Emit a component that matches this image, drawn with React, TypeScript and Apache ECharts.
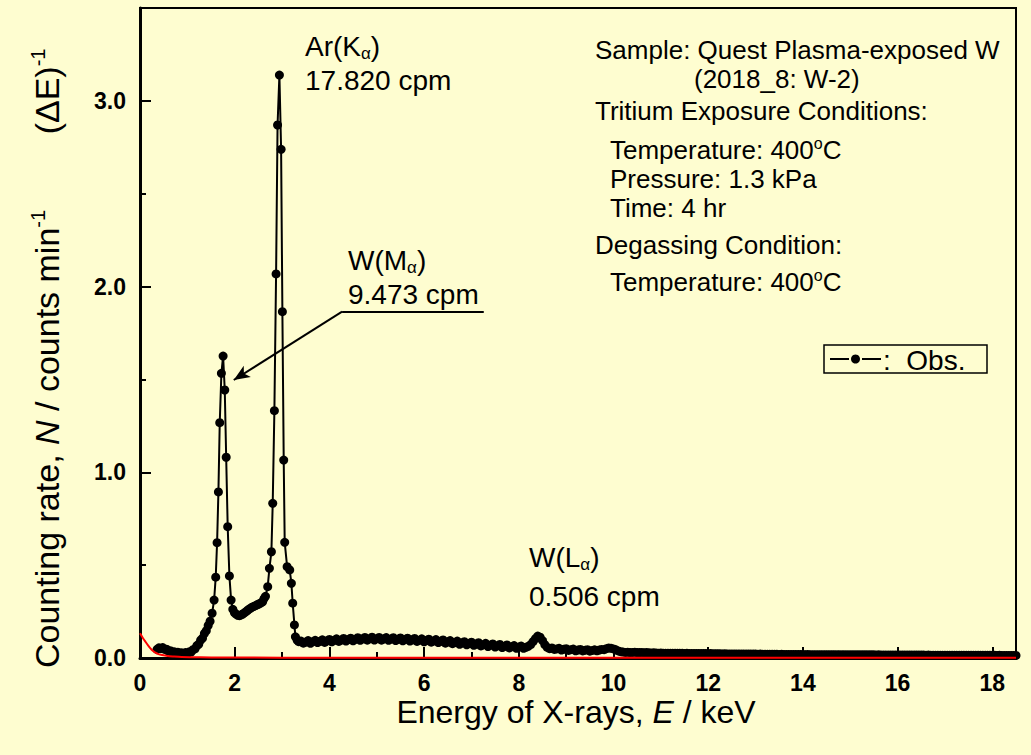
import React, { useEffect, useRef } from "react";
import * as echarts from "echarts";

const FONT = '"Liberation Sans", Arial, Helvetica, sans-serif';
const BG = "#FEFDD0";

// Continuum below the W(Mα) line: energy (keV) and counting rate
const lowEnergy = [
  0.36, 0.4, 0.44, 0.48, 0.52, 0.56, 0.6, 0.64, 0.68, 0.72,
  0.76, 0.8, 0.84, 0.88, 0.92, 0.96, 1.0, 1.04, 1.08, 1.12,
  1.16, 1.2, 1.24, 1.28, 1.32, 1.36, 1.4, 1.44, 1.48,
];
const lowRate = [
  0.046, 0.055, 0.05, 0.056, 0.046, 0.047, 0.036, 0.039, 0.029, 0.034,
  0.025, 0.031, 0.023, 0.028, 0.022, 0.029, 0.024, 0.033, 0.032, 0.045,
  0.049, 0.066, 0.074, 0.096, 0.107, 0.132, 0.147, 0.175, 0.198,
];

// W(Mα) and Ar(Kα) peak region
const peakEnergy = [
  1.523, 1.565, 1.599, 1.628, 1.656, 1.684, 1.719, 1.755, 1.79, 1.82,
  1.852, 1.888, 1.924, 1.96, 1.995, 2.03, 2.065, 2.1, 2.135, 2.17,
  2.205, 2.24, 2.275, 2.31, 2.345, 2.38, 2.415, 2.45, 2.485, 2.52,
  2.555, 2.59, 2.62, 2.65, 2.697, 2.733, 2.775, 2.803, 2.838, 2.874,
  2.905, 2.944, 2.98, 3.007, 3.035, 3.056, 3.107, 3.162, 3.197, 3.225,
  3.261, 3.282, 3.32, 3.352,
];
const peakRate = [
  0.241, 0.312, 0.435, 0.621, 0.894, 1.267, 1.533, 1.626, 1.443, 1.081,
  0.707, 0.442, 0.312, 0.262, 0.244, 0.236, 0.23, 0.228, 0.232, 0.237,
  0.243, 0.25, 0.257, 0.264, 0.27, 0.275, 0.279, 0.283, 0.288, 0.292,
  0.297, 0.303, 0.32, 0.332, 0.384, 0.483, 0.572, 0.833, 1.332, 2.068,
  2.87, 3.139, 2.739, 1.865, 1.066, 0.623, 0.492, 0.474, 0.402, 0.295,
  0.178, 0.114, 0.096, 0.088,
];

// Continuum above 3.4 keV, one channel every 0.05 keV
const tailStart = 3.4;
const tailStep = 0.05;
const tailRate = [
  0.091, 0.08, 0.086, 0.094, 0.079, 0.088, 0.095, 0.083, 0.09, 0.098,
  0.084, 0.093, 0.1, 0.087, 0.095, 0.103, 0.089, 0.097, 0.105, 0.091,
  0.099, 0.107, 0.093, 0.101, 0.109, 0.095, 0.103, 0.111, 0.096, 0.104,
  0.112, 0.097, 0.104, 0.111, 0.096, 0.103, 0.11, 0.095, 0.102, 0.109,
  0.094, 0.101, 0.108, 0.093, 0.1, 0.107, 0.091, 0.098, 0.105, 0.089,
  0.096, 0.103, 0.087, 0.094, 0.101, 0.085, 0.092, 0.099, 0.083, 0.09,
  0.097, 0.08, 0.087, 0.094, 0.077, 0.084, 0.091, 0.074, 0.081, 0.088,
  0.071, 0.078, 0.085, 0.068, 0.075, 0.082, 0.065, 0.072, 0.079, 0.062,
  0.069, 0.076, 0.059, 0.066, 0.073, 0.056, 0.063, 0.07, 0.054, 0.061,
  0.067, 0.052, 0.059, 0.064, 0.052, 0.058, 0.063, 0.072, 0.088, 0.104,
  0.118, 0.112, 0.094, 0.072, 0.057, 0.05, 0.054, 0.046, 0.049, 0.052,
  0.043, 0.047, 0.05, 0.041, 0.045, 0.048, 0.039, 0.043, 0.046, 0.038,
  0.042, 0.045, 0.037, 0.041, 0.044, 0.039, 0.043, 0.046, 0.045, 0.05,
  0.054, 0.052, 0.049, 0.044, 0.038, 0.034, 0.032, 0.03, 0.031, 0.029,
  0.03, 0.031, 0.029, 0.029, 0.03, 0.028, 0.029, 0.028, 0.027, 0.028,
  0.027, 0.026, 0.027, 0.026, 0.026, 0.026, 0.025, 0.026, 0.025, 0.025,
  0.025, 0.025, 0.024, 0.025, 0.024, 0.024, 0.024, 0.024, 0.024, 0.024,
  0.024, 0.024, 0.023, 0.024, 0.023, 0.023, 0.023, 0.023, 0.022, 0.023,
  0.022, 0.022, 0.022, 0.022, 0.022, 0.021, 0.022, 0.021, 0.021, 0.021,
  0.021, 0.021, 0.021, 0.02, 0.021, 0.02, 0.02, 0.02, 0.02, 0.02,
  0.02, 0.02, 0.019, 0.02, 0.019, 0.019, 0.019, 0.019, 0.019, 0.019,
  0.019, 0.019, 0.019, 0.018, 0.019, 0.018, 0.018, 0.018, 0.018, 0.018,
  0.018, 0.018, 0.018, 0.018, 0.018, 0.018, 0.018, 0.017, 0.018, 0.017,
  0.017, 0.017, 0.017, 0.017, 0.017, 0.017, 0.017, 0.017, 0.017, 0.017,
  0.017, 0.017, 0.017, 0.016, 0.017, 0.016, 0.016, 0.016, 0.016, 0.016,
  0.016, 0.016, 0.016, 0.016, 0.016, 0.016, 0.016, 0.016, 0.016, 0.016,
  0.016, 0.016, 0.016, 0.016, 0.015, 0.016, 0.015, 0.015, 0.015, 0.015,
  0.015, 0.015, 0.015, 0.015, 0.015, 0.015, 0.015, 0.015, 0.015, 0.015,
  0.015, 0.015, 0.015, 0.015, 0.015, 0.015, 0.015, 0.015, 0.015, 0.015,
  0.015, 0.015, 0.015, 0.015, 0.014, 0.015, 0.014, 0.014, 0.014, 0.014,
  0.014, 0.014, 0.014,
];

// Background curve (red)
const bgEnergy = [0, 0.06, 0.114, 0.17, 0.22, 0.27, 0.325, 0.39, 0.467, 0.58, 0.71, 0.88, 1.06, 1.5, 3, 8, 18.5];
const bgRate = [0.133, 0.108, 0.088, 0.068, 0.052, 0.039, 0.029, 0.021, 0.016, 0.011, 0.008, 0.005, 0.004, 0.003, 0.002, 0.002, 0.002];

// Axis settings
const xMin = 0;
const xMax = 18.5;
const xInterval = 2;
const yMin = 0;
const yMax = 3.5;
const yInterval = 1;

// W(Mα) pointer: underline end, elbow and arrow tip (keV, rate)
const pointerUnderlineEnd = [7.26, 1.865];
const pointerElbow = [4.268, 1.865];
const pointerTip = [1.98, 1.497];

type Line = { text: string; x: number; y: number; lh?: number };

const infoLines: Line[] = [
  { text: "{t|Sample: Quest Plasma-exposed W}", x: 595, y: 50, lh: 26 },
  { text: "{t|(2018_8: W-2)}", x: 694, y: 79, lh: 26 },
  { text: "{t|Tritium Exposure Conditions:}", x: 595, y: 111, lh: 26 },
  { text: "{t|Temperature: 400}{s|o}{t|C}", x: 610, y: 150 },
  { text: "{t|Pressure: 1.3 kPa}", x: 610, y: 179, lh: 26 },
  { text: "{t|Time: 4 hr}", x: 610, y: 208, lh: 26 },
  { text: "{t|Degassing Condition:}", x: 595, y: 245, lh: 26 },
  { text: "{t|Temperature: 400}{s|o}{t|C}", x: 610, y: 282 },
];

const peakLabels: Line[] = [
  { text: "{t|Ar(K}{b|α}{t|)}", x: 305, y: 46 },
  { text: "{t|17.820 cpm}", x: 305, y: 80, lh: 26 },
  { text: "{t|W(M}{b|α}{t|)}", x: 348, y: 260 },
  { text: "{t|9.473 cpm}", x: 348, y: 294, lh: 26 },
  { text: "{t|W(L}{b|α}{t|)}", x: 529, y: 557 },
  { text: "{t|0.506 cpm}", x: 529, y: 596, lh: 26 },
];

function richStyle(size: number, lh = size + 4) {
  return {
    t: { fontSize: size, fontFamily: FONT, fill: "#000", lineHeight: lh },
    s: { fontSize: Math.round(size * 0.6), fontFamily: FONT, fill: "#000", lineHeight: 9, verticalAlign: "top" },
    b: { fontSize: Math.round(size * 0.62), fontFamily: FONT, fill: "#000", lineHeight: 14, verticalAlign: "bottom" },
    i: { fontSize: size, fontFamily: FONT, fontStyle: "italic", fill: "#000", lineHeight: lh },
  };
}

export default function App() {
  const ref = useRef<HTMLDivElement>(null);

  useEffect(() => {
    if (!ref.current) return;
    const chart = echarts.init(ref.current, undefined, { renderer: "svg" });

    const obsData: number[][] = [
      ...lowEnergy.map((e, i) => [e, lowRate[i]]),
      ...peakEnergy.map((e, i) => [e, peakRate[i]]),
      ...tailRate.map((v, i) => [Number((tailStart + i * tailStep).toFixed(2)), v]),
    ];
    const bgData = bgEnergy.map((e, i) => [e, bgRate[i]]);

    const textEl = (t: Line, size: number) => ({
      type: "text",
      x: t.x,
      y: t.y,
      silent: true,
      style: {
        text: t.text,
        rich: richStyle(size, t.lh),
        align: "left",
        verticalAlign: "middle",
        fill: "#000",
      },
    });

    const axisCommon = {
      type: "value",
      axisLine: { show: true, onZero: false, lineStyle: { color: "#000", width: 3 } },
      axisTick: { show: true, inside: true, length: 11, lineStyle: { color: "#000", width: 2 } },
      minorTick: { show: true, splitNumber: 2, length: 6, lineStyle: { color: "#000", width: 2 } },
      splitLine: { show: false },
    };

    const option: any = {
      animation: false,
      backgroundColor: BG,
      grid: {
        left: 140,
        right: 15,
        top: 8,
        bottom: 97,
        show: true,
        borderColor: "#000",
        borderWidth: 2,
        backgroundColor: "transparent",
        outerBoundsMode: "none",
      },
      xAxis: {
        ...axisCommon,
        min: xMin,
        max: xMax,
        interval: xInterval,
        axisLabel: {
          color: "#000",
          fontFamily: FONT,
          fontWeight: "bold",
          fontSize: 23,
          margin: 13,
          showMaxLabel: false,
        },
      },
      yAxis: {
        ...axisCommon,
        min: yMin,
        max: yMax,
        interval: yInterval,
        axisLabel: {
          color: "#000",
          fontFamily: FONT,
          fontWeight: "bold",
          fontSize: 23,
          margin: 14,
          showMaxLabel: false,
          formatter: (v: number) => v.toFixed(1),
        },
      },
      series: [
        {
          type: "line",
          name: "Obs.",
          data: obsData,
          symbol: "circle",
          symbolSize: 9,
          showSymbol: true,
          showAllSymbol: true,
          itemStyle: { color: "#000" },
          lineStyle: { color: "#000", width: 2 },
          z: 4,
          silent: true,
          markLine: {
            silent: true,
            symbol: ["none", "arrow"],
            symbolSize: [10, 16],
            lineStyle: { color: "#000", width: 2, type: "solid" },
            label: { show: false },
            emphasis: { disabled: true },
            data: [
              [
                { coord: pointerUnderlineEnd, symbol: "none" },
                { coord: pointerElbow, symbol: "none" },
              ],
              [
                { coord: pointerElbow, symbol: "none" },
                { coord: pointerTip, symbol: "arrow" },
              ],
            ],
          },
        },
        {
          type: "line",
          name: "Background",
          data: bgData,
          symbol: "none",
          smooth: 0.3,
          lineStyle: { color: "#ff0000", width: 2 },
          z: 5,
          silent: true,
        },
      ],
      graphic: [
        // axis titles
        {
          type: "text",
          x: 576,
          y: 712,
          silent: true,
          style: {
            text: "{t|Energy of X-rays, }{i|E}{t| / keV}",
            rich: richStyle(32),
            align: "center",
            verticalAlign: "middle",
          },
        },
        {
          type: "text",
          x: 47,
          y: 668,
          rotation: Math.PI / 2,
          silent: true,
          style: {
            text: "{t|Counting rate, }{i|N}{t| / counts min}{s|-1}{t|        (ΔE)}{s|-1}",
            rich: {
              ...richStyle(34),
              s: { fontSize: 20, fontFamily: FONT, fill: "#000", lineHeight: 12, verticalAlign: "top" },
            },
            align: "left",
            verticalAlign: "middle",
          },
        },
        ...peakLabels.map((t) => textEl(t, 28)),
        ...infoLines.map((t) => textEl(t, 26)),
        // legend box
        {
          type: "group",
          silent: true,
          children: [
            {
              type: "rect",
              shape: { x: 824, y: 345, width: 163, height: 28 },
              style: { fill: BG, stroke: "#000", lineWidth: 1.5 },
            },
            {
              type: "line",
              shape: { x1: 830, y1: 359, x2: 849, y2: 359 },
              style: { stroke: "#000", lineWidth: 2 },
            },
            {
              type: "circle",
              shape: { cx: 855.5, cy: 359, r: 4.5 },
              style: { fill: "#000" },
            },
            {
              type: "line",
              shape: { x1: 862, y1: 359, x2: 881, y2: 359 },
              style: { stroke: "#000", lineWidth: 2 },
            },
            {
              type: "text",
              x: 883,
              y: 360,
              style: {
                text: ":  Obs.",
                fontSize: 28,
                fontFamily: FONT,
                fill: "#000",
                align: "left",
                verticalAlign: "middle",
              },
            },
          ],
        },
      ],
    };

    chart.setOption(option);
    return () => chart.dispose();
  }, []);

  return (
    <div
      ref={ref}
      style={{ position: "fixed", left: 0, top: 0, width: 1031, height: 755, background: BG }}
    />
  );
}
